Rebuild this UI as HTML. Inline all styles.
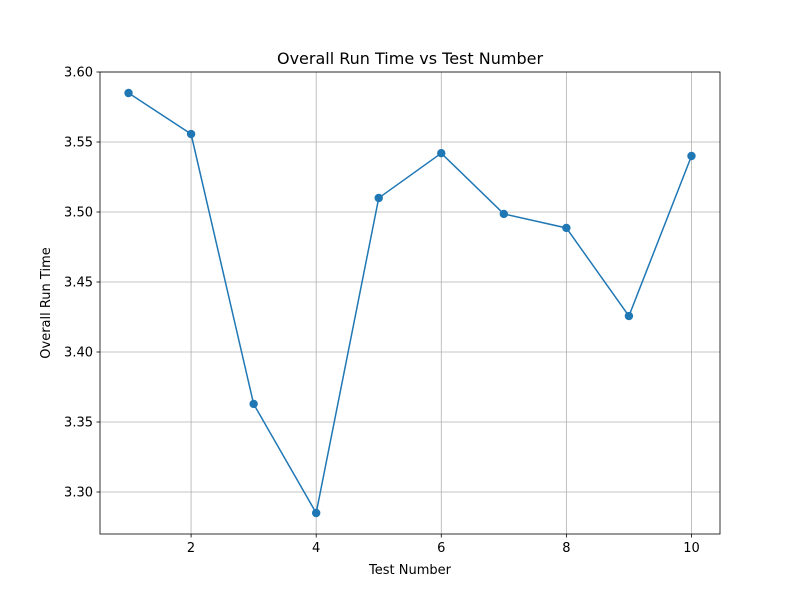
<!DOCTYPE html>
<html><head><meta charset="utf-8"><style>
body{margin:0;background:#fff;}
svg text{font-family:"DejaVu Sans","Liberation Sans",sans-serif;fill:#000;}
</style></head><body>
<svg id="chart" width="800" height="600" xmlns="http://www.w3.org/2000/svg">
<rect width="800" height="600" fill="#fff"/>
<g id="grid"></g>
<g id="axes"></g>
<g id="series"></g>
<text x="410" y="64" font-size="16" text-anchor="middle">Overall Run Time vs Test Number</text>
<text x="410" y="574" font-size="13" text-anchor="middle">Test Number</text>
<text x="0" y="0" font-size="13" text-anchor="middle" transform="translate(50,303) rotate(-90)">Overall Run Time</text>
</svg>
<script>
const testNumbers=[1,2,3,4,5,6,7,8,9,10];
const runTimes=[3.585,3.5557,3.3629,3.285,3.51,3.542,3.4986,3.4886,3.4257,3.54];
const xTicks=[2,4,6,8,10];
const yTicks=[3.30,3.35,3.40,3.45,3.50,3.55,3.60];
const L=100,R=720,T=72,B=534;
const xMin=0.544,xMax=10.456,yMin=3.27,yMax=3.60;
const sx=v=>L+(v-xMin)/(xMax-xMin)*(R-L);
const sy=v=>B-(v-yMin)/(yMax-yMin)*(B-T);
const NS="http://www.w3.org/2000/svg";
function mk(tag,attrs,parent){const e=document.createElementNS(NS,tag);for(const k in attrs)e.setAttribute(k,attrs[k]);parent.appendChild(e);return e;}
const grid=document.getElementById('grid'),axes=document.getElementById('axes'),series=document.getElementById('series');
xTicks.forEach(t=>{const x=sx(t);
const g=mk('line',{x1:x,x2:x,y1:T,y2:B,stroke:'#b0b0b0','stroke-width':0.8},grid);

const tk=mk('line',{x1:x,x2:x,y1:B,y2:B+3.5,stroke:'#000','stroke-width':0.8},axes);

const tx=mk('text',{x:x,y:B+18,'font-size':13,'text-anchor':'middle'},axes);tx.textContent=t;
});
yTicks.forEach(t=>{const y=sy(t);
const g=mk('line',{x1:L,x2:R,y1:y,y2:y,stroke:'#b0b0b0','stroke-width':0.8},grid);

const tk=mk('line',{x1:L-3.5,x2:L,y1:y,y2:y,stroke:'#000','stroke-width':0.8},axes);

const tx=mk('text',{x:L-7,y:y+4.5,'font-size':13,'text-anchor':'end'},axes);tx.textContent=t.toFixed(2);
});
const frame=mk('rect',{x:L,y:T,width:R-L,height:B-T,fill:'none',stroke:'#000','stroke-width':0.8},axes);

const pts=testNumbers.map((n,i)=>sx(n)+','+sy(runTimes[i])).join(' ');
const line=mk('polyline',{points:pts,fill:'none',stroke:'#1f77b4','stroke-width':1.5},series);

testNumbers.forEach((n,i)=>{const c=mk('circle',{cx:sx(n),cy:sy(runTimes[i]),r:4.2,fill:'#1f77b4'},series);
});
</script>
</body></html>
